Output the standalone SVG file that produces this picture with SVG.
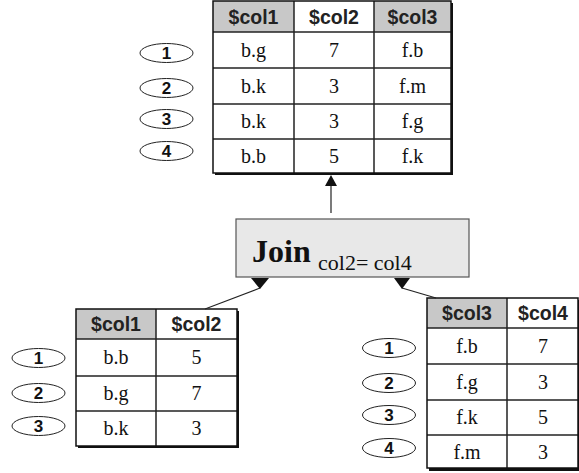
<svg xmlns="http://www.w3.org/2000/svg" width="579" height="473" viewBox="0 0 579 473">
<style>
.hd{font-family:"Liberation Sans",Arial,sans-serif;font-weight:bold;font-size:19.5px;text-anchor:middle;fill:#222}
.cl{font-family:"Liberation Serif","Times New Roman",serif;font-size:20px;text-anchor:middle;fill:#111}
.num{font-family:"Liberation Sans",Arial,sans-serif;font-weight:bold;font-size:17px;text-anchor:middle;fill:#111}
.ov{fill:#fff;stroke:#222;stroke-width:1}
.grid{stroke:#222;stroke-width:1.5;fill:none}
.frame{fill:none;stroke:#111;stroke-width:1.5}
.shadow{fill:#111}
.gray{fill:#c8c8c8}
.conn{stroke:#222;stroke-width:1.2;fill:none}
.head{fill:#111}
</style>
<g id="result-table">
  <rect x="215" y="3" width="238" height="172" class="shadow"/>
  <rect x="213" y="1" width="238" height="172" fill="#fff"/>
  <rect x="213" y="1" width="81" height="31" class="gray"/>
  <rect x="374" y="1" width="77" height="31" class="gray"/>
  <line x1="294" y1="1" x2="294" y2="173" class="grid"/>
  <line x1="374" y1="1" x2="374" y2="173" class="grid"/>
  <line x1="213" y1="32" x2="451" y2="32" class="grid"/>
  <line x1="213" y1="68" x2="451" y2="68" class="grid"/>
  <line x1="213" y1="104" x2="451" y2="104" class="grid"/>
  <line x1="213" y1="139" x2="451" y2="139" class="grid"/>
  <rect x="213" y="1" width="238" height="172" class="frame"/>
  <text x="253.5" y="23.5" class="hd">$col1</text>
  <text x="334" y="23.5" class="hd">$col2</text>
  <text x="412.5" y="23.5" class="hd">$col3</text>
  <text x="253.5" y="57" class="cl">b.g</text><text x="334" y="57" class="cl">7</text><text x="412.5" y="57" class="cl">f.b</text>
  <text x="253.5" y="93" class="cl">b.k</text><text x="334" y="93" class="cl">3</text><text x="412.5" y="93" class="cl">f.m</text>
  <text x="253.5" y="128" class="cl">b.k</text><text x="334" y="128" class="cl">3</text><text x="412.5" y="128" class="cl">f.g</text>
  <text x="253.5" y="163" class="cl">b.b</text><text x="334" y="163" class="cl">5</text><text x="412.5" y="163" class="cl">f.k</text>
</g>
<g id="result-rows">
  <ellipse cx="166.5" cy="53" rx="26.5" ry="9.5" class="ov"/><text x="166.5" y="59" class="num">1</text>
  <ellipse cx="166.5" cy="88" rx="26.5" ry="9.5" class="ov"/><text x="166.5" y="94" class="num">2</text>
  <ellipse cx="166.5" cy="119" rx="26.5" ry="9.5" class="ov"/><text x="166.5" y="125" class="num">3</text>
  <ellipse cx="166.5" cy="151" rx="26.5" ry="9.5" class="ov"/><text x="166.5" y="157" class="num">4</text>
</g>
<g id="join">
  <rect x="236" y="219" width="233" height="58" fill="#e8e8e8" stroke="#555" stroke-width="1.2"/>
  <text x="252" y="262" font-family="Liberation Serif,'Times New Roman',serif" font-weight="bold" font-size="32" fill="#111">Join</text>
  <text x="318" y="270" font-family="Liberation Serif,'Times New Roman',serif" font-size="22" fill="#111">col2= col4</text>
</g>
<g id="left-table">
  <rect x="78" y="311" width="161" height="137" class="shadow"/>
  <rect x="76" y="309" width="161" height="137" fill="#fff"/>
  <rect x="76" y="309" width="80" height="30" class="gray"/>
  <line x1="156" y1="309" x2="156" y2="446" class="grid"/>
  <line x1="76" y1="339" x2="237" y2="339" class="grid"/>
  <line x1="76" y1="376" x2="237" y2="376" class="grid"/>
  <line x1="76" y1="411" x2="237" y2="411" class="grid"/>
  <rect x="76" y="309" width="161" height="137" class="frame"/>
  <text x="116" y="331" class="hd">$col1</text>
  <text x="196.5" y="331" class="hd">$col2</text>
  <text x="116" y="364" class="cl">b.b</text><text x="196.5" y="364" class="cl">5</text>
  <text x="116" y="400" class="cl">b.g</text><text x="196.5" y="400" class="cl">7</text>
  <text x="116" y="435" class="cl">b.k</text><text x="196.5" y="435" class="cl">3</text>
</g>
<g id="left-rows">
  <ellipse cx="38.5" cy="358" rx="26.5" ry="9.5" class="ov"/><text x="38.5" y="364" class="num">1</text>
  <ellipse cx="38.5" cy="393" rx="26.5" ry="9.5" class="ov"/><text x="38.5" y="399" class="num">2</text>
  <ellipse cx="38.5" cy="426" rx="26.5" ry="9.5" class="ov"/><text x="38.5" y="432" class="num">3</text>
</g>
<g id="right-table">
  <rect x="429" y="300" width="152" height="171" class="shadow"/>
  <rect x="427" y="298" width="151" height="170" fill="#fff"/>
  <rect x="427" y="298" width="80" height="30" class="gray"/>
  <line x1="507" y1="298" x2="507" y2="468" class="grid"/>
  <line x1="427" y1="328" x2="578" y2="328" class="grid"/>
  <line x1="427" y1="364" x2="578" y2="364" class="grid"/>
  <line x1="427" y1="400" x2="578" y2="400" class="grid"/>
  <line x1="427" y1="435" x2="578" y2="435" class="grid"/>
  <rect x="427" y="298" width="151" height="170" class="frame"/>
  <text x="467" y="320" class="hd">$col3</text>
  <text x="543" y="320" class="hd">$col4</text>
  <text x="467" y="353" class="cl">f.b</text><text x="543" y="353" class="cl">7</text>
  <text x="467" y="389" class="cl">f.g</text><text x="543" y="389" class="cl">3</text>
  <text x="467" y="424" class="cl">f.k</text><text x="543" y="424" class="cl">5</text>
  <text x="467" y="459" class="cl">f.m</text><text x="543" y="459" class="cl">3</text>
</g>
<g id="right-rows">
  <ellipse cx="389" cy="348" rx="26.5" ry="9.5" class="ov"/><text x="389" y="354" class="num">1</text>
  <ellipse cx="389" cy="383" rx="26.5" ry="9.5" class="ov"/><text x="389" y="389" class="num">2</text>
  <ellipse cx="389" cy="415" rx="26.5" ry="9.5" class="ov"/><text x="389" y="421" class="num">3</text>
  <ellipse cx="389" cy="448" rx="26.5" ry="9.5" class="ov"/><text x="389" y="454" class="num">4</text>
</g>
<g id="connectors">
  <line x1="331" y1="213" x2="331" y2="185" class="conn"/>
  <polygon points="331,175 325,186 337,186" class="head"/>
  <line x1="205" y1="309" x2="260" y2="288" class="conn"/>
  <polygon points="251,278 269,278 260,289" class="head"/>
  <line x1="436" y1="298" x2="402" y2="288" class="conn"/>
  <polygon points="394,278 410,278 402,289" class="head"/>
</g>
</svg>
